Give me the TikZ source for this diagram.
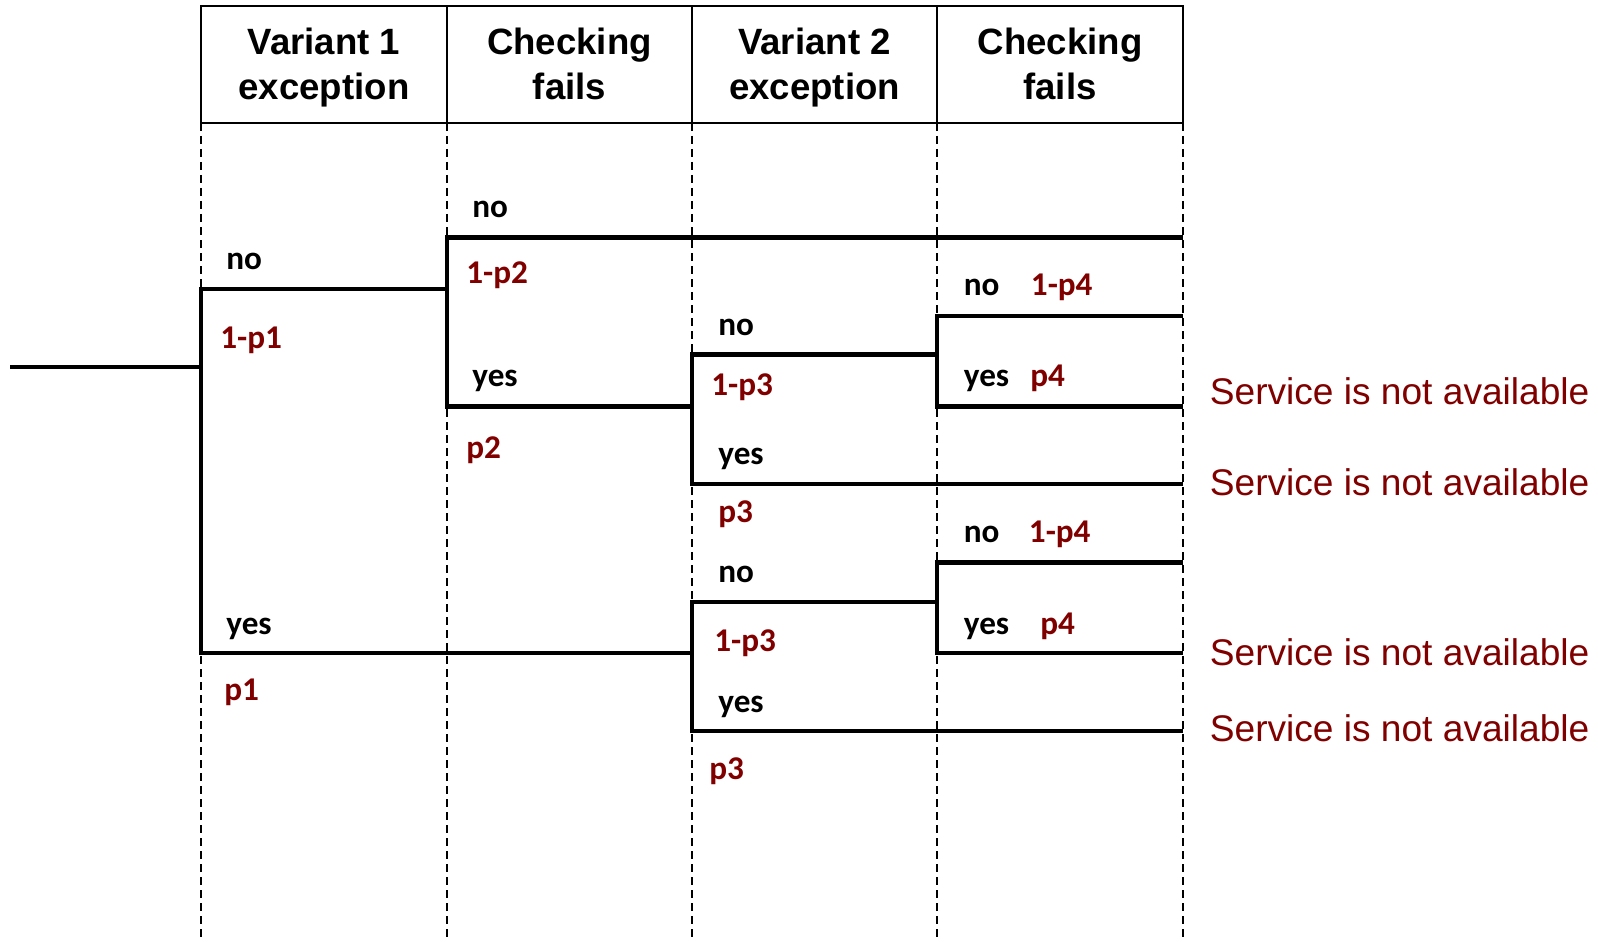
\documentclass[tikz,border=0pt]{standalone}
\usepackage{fontspec}
\setmainfont{Liberation Sans}
\newfontfamily\labfont{Carlito}
\definecolor{dred}{RGB}{128,0,0}
\begin{document}
\begin{tikzpicture}[x=0.5pt,y=-0.5pt,
  tree/.style={line width=2.2pt, line join=miter},
  gridline/.style={line width=0.7pt, dash pattern=on 4pt off 2.5pt},
  hdrbox/.style={line width=1pt},
  hdr/.style={font=\bfseries\fontsize{18.3}{22}\selectfont, anchor=base, inner sep=0pt},
  yn/.style={font=\labfont\bfseries\fontsize{16.6}{20}\selectfont, anchor=base west, inner sep=0pt, yshift=-1.2pt},
  pr/.style={yn, text=dred},
  svc/.style={font=\fontsize{18.55}{22}\selectfont, text=dred, anchor=base west, inner sep=0pt}]
\useasboundingbox (0,0) rectangle (1598,941);
% header table
\draw[hdrbox] (201,6) rectangle (1183,123);
\foreach \x in {447,692,937} \draw[hdrbox] (\x,6) -- (\x,123);
\foreach \x in {201,447,692,937,1183} \draw[gridline] (\x,123) -- (\x,941);
\node[hdr] (h1a) at (324,55) {Variant 1};
\node[hdr] (h1b) at (324,100) {exception};
\node[hdr] (h2a) at (569.5,55) {Checking};
\node[hdr] (h2b) at (569.5,100) {fails};
\node[hdr] (h3a) at (814.5,55) {Variant 2};
\node[hdr] (h3b) at (814.5,100) {exception};
\node[hdr] (h4a) at (1060,55) {Checking};
\node[hdr] (h4b) at (1060,100) {fails};
% tree coordinates
\coordinate (start) at (10,367);
\coordinate (a) at (201,367);
\coordinate (a-no) at (201,289);
\coordinate (a-yes) at (201,653);
\coordinate (b) at (447,289);
\coordinate (b-no) at (447,237.5);
\coordinate (b-no-end) at (1183,237.5);
\coordinate (b-yes) at (447,406.6);
\coordinate (c) at (692,406.6);
\coordinate (c-no) at (692,354.6);
\coordinate (c-yes) at (692,484);
\coordinate (c-yes-end) at (1183,484);
\coordinate (d) at (937,354.6);
\coordinate (d-no) at (937,316);
\coordinate (d-no-end) at (1183,316);
\coordinate (d-yes) at (937,406.6);
\coordinate (d-yes-end) at (1183,406.6);
\coordinate (e) at (692,653);
\coordinate (e-no) at (692,602);
\coordinate (e-yes) at (692,731);
\coordinate (e-yes-end) at (1183,731);
\coordinate (f) at (937,602);
\coordinate (f-no) at (937,562.5);
\coordinate (f-no-end) at (1183,562.5);
\coordinate (f-yes) at (937,653);
\coordinate (f-yes-end) at (1183,653);
% tree
\draw[tree] (start) -- (a);
\draw[tree] (b) -- (a-no) -- (a-yes) -- (e);
\draw[tree] (b-no-end) -- (b-no) -- (b-yes) -- (c);
\draw[tree] (d) -- (c-no) -- (c-yes) -- (c-yes-end);
\draw[tree] (d-no-end) -- (d-no) -- (d-yes) -- (d-yes-end);
\draw[tree] (f) -- (e-no) -- (e-yes) -- (e-yes-end);
\draw[tree] (f-no-end) -- (f-no) -- (f-yes) -- (f-yes-end);
% labels
\node[yn] (l1) at (226,267.5) {no};
\node[pr] (l2) at (220,345.8) {1-p1};
\node[yn] (l3) at (226,631.8) {yes};
\node[pr] (l4) at (224,698.4) {p1};
\node[yn] (l5) at (472,215.5) {no};
\node[pr] (l6) at (466,280.6) {1-p2};
\node[yn] (l7) at (472,384.2) {yes};
\node[pr] (l8) at (466,455.8) {p2};
\node[yn] (l9) at (718,332.7) {no};
\node[pr] (l10) at (711,392.7) {1-p3};
\node[yn] (l11) at (718,461.7) {yes};
\node[pr] (l12) at (718,520) {p3};
\node[yn] (l13) at (963.5,293.3) {no};
\node[pr] (l14) at (1030.5,293.3) {1-p4};
\node[yn] (l15) at (963.5,384.3) {yes};
\node[pr] (l16) at (1030,384.3) {p4};
\node[yn] (l17) at (963.5,540.5) {no};
\node[pr] (l18) at (1028.5,540.5) {1-p4};
\node[yn] (l19) at (963.5,632.3) {yes};
\node[pr] (l20) at (1040,632.3) {p4};
\node[yn] (l21) at (718,580) {no};
\node[pr] (l22) at (714,649) {1-p3};
\node[yn] (l23) at (718,710) {yes};
\node[pr] (l24) at (709,776.7) {p3};
% outcomes
\node[svc] (s1) at (1209.5,404.3) {Service is not available};
\node[svc] (s2) at (1209.5,495) {Service is not available};
\node[svc] (s3) at (1209.5,665) {Service is not available};
\node[svc] (s4) at (1209.5,741.7) {Service is not available};
\end{tikzpicture}
\end{document}
